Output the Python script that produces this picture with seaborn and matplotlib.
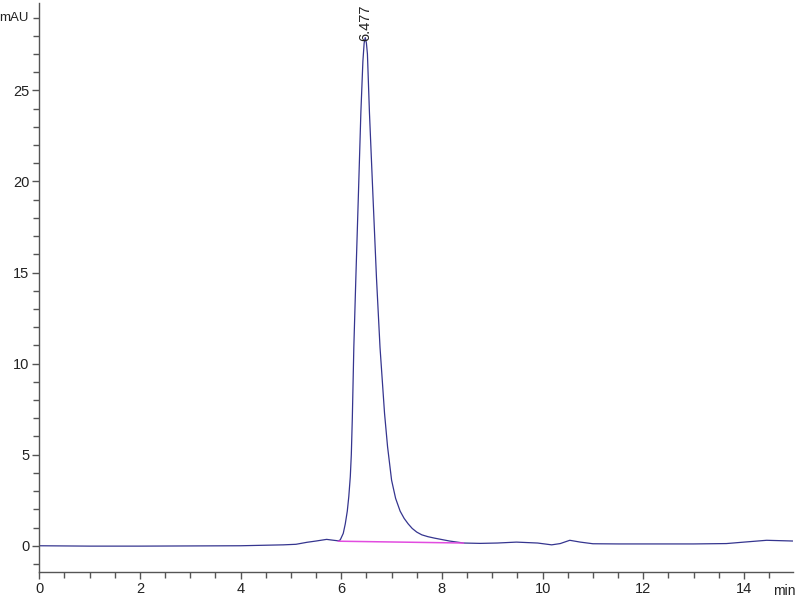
import matplotlib
matplotlib.use("Agg")
import matplotlib.pyplot as plt
import seaborn as sns
import pandas as pd
from matplotlib.ticker import MultipleLocator

# Chromatogram trace (time in min, absorbance in mAU)
time_min = [0.0, 1.0, 2.0, 3.0, 4.0, 4.85, 5.1, 5.32, 5.5, 5.71, 5.85, 5.94,
            5.98, 6.04, 6.08, 6.12, 6.15, 6.18, 6.20, 6.22, 6.25, 6.29, 6.34,
            6.39, 6.43, 6.455, 6.477, 6.50, 6.52, 6.56, 6.63, 6.70, 6.77,
            6.86, 6.92, 7.00, 7.08, 7.17, 7.25, 7.33, 7.41, 7.50, 7.60, 7.72,
            7.85, 8.0, 8.15, 8.43, 8.76, 9.1, 9.48, 9.9, 10.18, 10.35, 10.54,
            10.75, 11.0, 11.5, 12.0, 12.5, 13.0, 13.65, 14.0, 14.45, 14.97]
absorb_mau = [0.0, -0.02, -0.02, -0.01, 0.0, 0.05, 0.08, 0.19, 0.26, 0.35,
              0.3, 0.27, 0.32, 0.68, 1.2, 1.9, 2.7, 3.8, 5.0, 7.0, 10.9,
              14.7, 19.2, 23.8, 26.6, 27.6, 27.9, 27.6, 27.0, 23.8, 19.2,
              14.7, 10.9, 7.27, 5.44, 3.6, 2.6, 1.9, 1.5, 1.2, 0.95, 0.75,
              0.6, 0.5, 0.42, 0.34, 0.26, 0.15, 0.13, 0.15, 0.2, 0.15, 0.05,
              0.12, 0.3, 0.2, 0.11, 0.1, 0.1, 0.1, 0.1, 0.12, 0.2, 0.3, 0.26]

# Integration baseline of the peak
base_time = [5.94, 8.43]
base_mau = [0.25, 0.15]

peak_rt = 6.477
peak_label = "6.477"

x_ticks = [0, 2, 4, 6, 8, 10, 12, 14]
y_ticks = [0, 5, 10, 15, 20, 25]

sns.set_theme(style="white")
plt.rcParams['font.family'] = ['Liberation Sans', 'DejaVu Sans']

fig = plt.figure(figsize=(8, 6), dpi=100)
ax = fig.add_axes([0.049, 0.047, 0.942, 0.948])

df = pd.DataFrame({"t": time_min, "v": absorb_mau})
sns.lineplot(data=df, x="t", y="v", ax=ax, color="#35358f", linewidth=0.9,
             sort=True, estimator=None)
bdf = pd.DataFrame({"t": base_time, "v": base_mau})
sns.lineplot(data=bdf, x="t", y="v", ax=ax, color="#e24ce0", linewidth=1.1,
             estimator=None)

ax.text(peak_rt, 27.7, peak_label, rotation=90, ha="center", va="bottom",
        fontsize=10.5, color="#222222")

ax.set_xlim(0, 14.97)
ax.set_ylim(-1.43, 29.8)
ax.set_xticks(x_ticks)
ax.set_yticks(y_ticks)
ax.xaxis.set_minor_locator(MultipleLocator(0.5))
ax.yaxis.set_minor_locator(MultipleLocator(1))
ax.set_xlabel("")
ax.set_ylabel("")

for s in ["top", "right"]:
    ax.spines[s].set_visible(False)
for s in ["left", "bottom"]:
    ax.spines[s].set_color("#555555")
    ax.spines[s].set_linewidth(1.0)

ax.tick_params(axis="both", which="major", direction="out", length=5,
               width=1.0, color="#555555", labelsize=10.5, labelcolor="#222222",
               bottom=True, left=True, pad=2)
ax.tick_params(axis="both", which="minor", direction="out", length=4,
               width=1.0, color="#555555", bottom=True, left=True)

ax.text(-0.014, 29.0, "mAU", transform=ax.get_yaxis_transform(),
        ha="right", va="center", fontsize=9.5, color="#222222")
ax.text(14.8, -0.022, "min", transform=ax.get_xaxis_transform(),
        ha="center", va="top", fontsize=10, color="#222222")

fig.savefig("out.png", dpi=100)
